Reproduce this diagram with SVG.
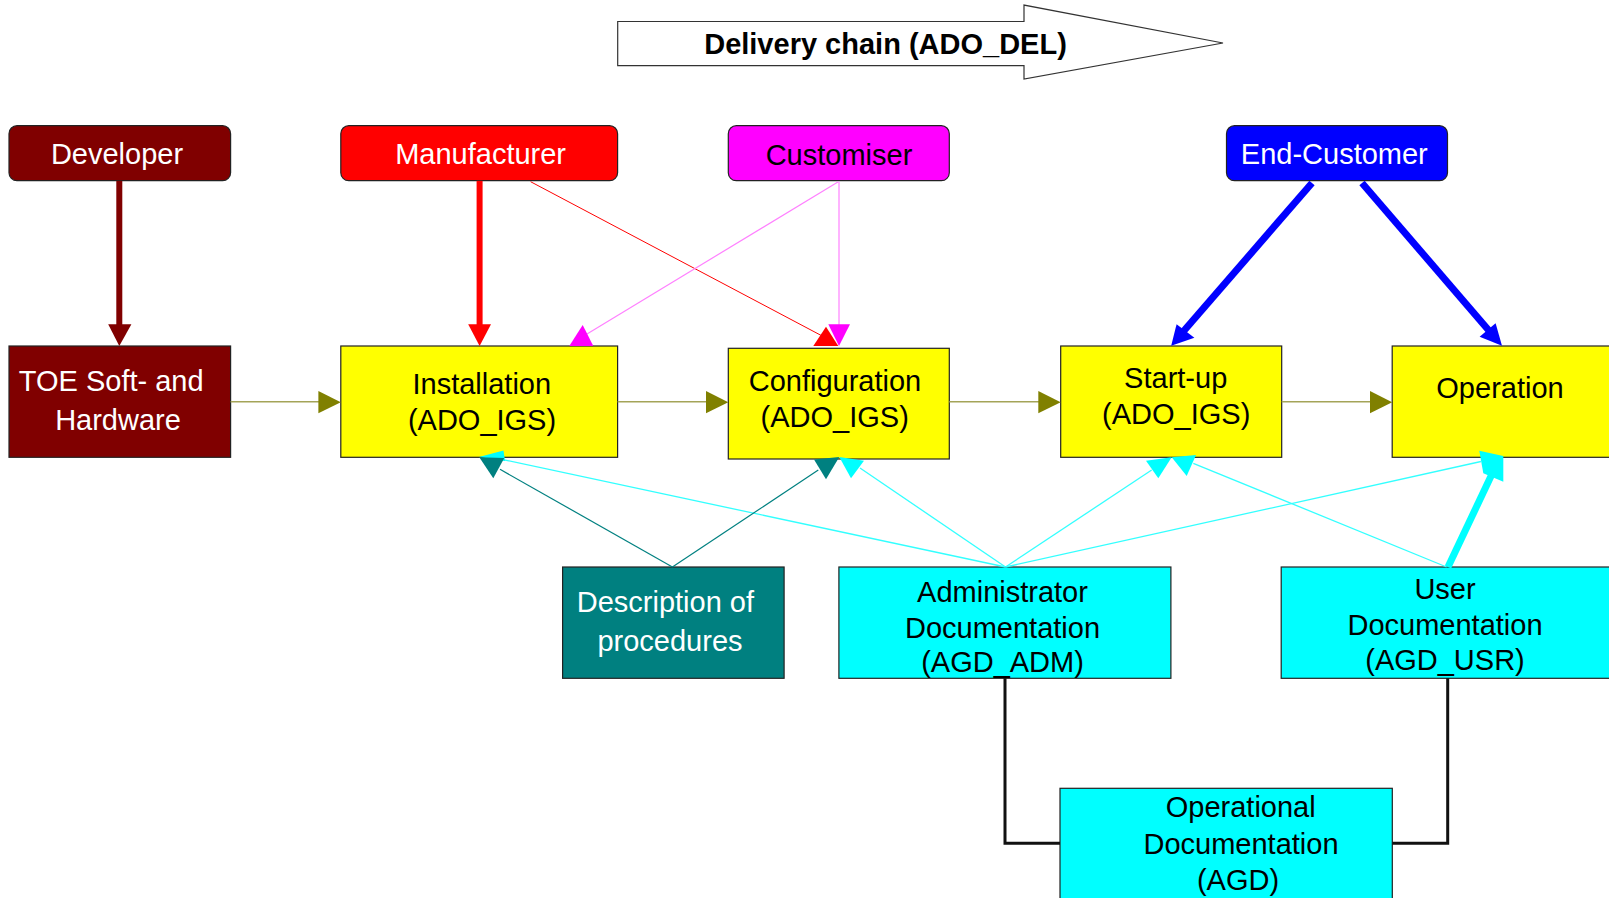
<svg xmlns="http://www.w3.org/2000/svg" width="1609" height="898" viewBox="0 0 1609 898">
<style>
.box{stroke:#222;stroke-width:1.2}
.t{font-family:"Liberation Sans",Arial,sans-serif;font-size:29px;text-anchor:middle}
.w{fill:#fff}.k{fill:#000}
.maroon{fill:#800000}.red{fill:#ff0000}.mag{fill:#ff00ff}.blue{fill:#0000ff}
.yel{fill:#ffff00}.teal{fill:#008080}.cyan{fill:#00ffff}
.ln{fill:none}
.olv{stroke:#a4a458;stroke-width:1.5}
.hd-olv{fill:#808000}
.thin-red{stroke:#ff0000;stroke-width:1}
.thin-mag{stroke:#ff80ff;stroke-width:1.2}
.thin-teal{stroke:#008080;stroke-width:1.2}
.thin-cyan{stroke:#33ffff;stroke-width:1.3}
.blk{stroke:#111;stroke-width:3;fill:none}
</style>
<rect width="1609" height="898" fill="#fff"/>

<g id="delivery-chain">
<polygon points="617.7,21.5 1024,21.5 1024,5.1 1223,43 1024,79 1024,65.7 617.7,65.7" fill="#fff" stroke="#333" stroke-width="1.2"/>
<text class="t k" x="885.5" y="53.5" font-weight="bold">Delivery chain (ADO_DEL)</text>
</g>

<g id="developer">
<rect class="box maroon" x="9" y="125.7" width="221.6" height="55" rx="8"/>
<text class="t w" x="117" y="163.5">Developer</text>
</g>
<g id="manufacturer">
<rect class="box red" x="340.8" y="125.7" width="276.8" height="55" rx="8"/>
<text class="t w" x="480.6" y="163.5">Manufacturer</text>
</g>
<g id="customiser">
<rect class="box mag" x="728.3" y="125.7" width="221" height="55" rx="8"/>
<text class="t k" x="839" y="165">Customiser</text>
</g>
<g id="end-customer">
<rect class="box blue" x="1226.5" y="125.7" width="221" height="55" rx="8"/>
<text class="t w" x="1334.3" y="163.5">End-Customer</text>
</g>

<g id="toe">
<rect class="box maroon" x="9" y="346" width="221.6" height="111.3"/>
<text class="t w" x="111.2" y="391">TOE Soft- and</text>
<text class="t w" x="118" y="430">Hardware</text>
</g>
<g id="installation">
<rect class="box yel" x="340.8" y="346" width="276.8" height="111.3"/>
<text class="t k" x="481.8" y="394.3">Installation</text>
<text class="t k" x="482" y="430">(ADO_IGS)</text>
</g>
<g id="configuration">
<rect class="box yel" x="728.3" y="348.3" width="221" height="110.7"/>
<text class="t k" x="835" y="391">Configuration</text>
<text class="t k" x="834.7" y="426.7">(ADO_IGS)</text>
</g>
<g id="start-up">
<rect class="box yel" x="1060.7" y="346" width="221" height="111.3"/>
<text class="t k" x="1175.7" y="388.3">Start-up</text>
<text class="t k" x="1176.2" y="424.3">(ADO_IGS)</text>
</g>
<g id="operation">
<rect class="box yel" x="1392.2" y="346" width="240" height="111.3"/>
<text class="t k" x="1500" y="398.3">Operation</text>
</g>

<g id="description">
<rect class="box teal" x="562.6" y="567" width="221.5" height="111.3" stroke="#0a2a2a"/>
<text class="t w" x="665.4" y="611.7">Description of</text>
<text class="t w" x="670" y="651">procedures</text>
</g>
<g id="admin-doc">
<rect class="box cyan" x="838.9" y="567" width="332" height="111.3"/>
<text class="t k" x="1002.5" y="601.7">Administrator</text>
<text class="t k" x="1002.5" y="637.5">Documentation</text>
<text class="t k" x="1002.5" y="672">(AGD_ADM)</text>
</g>
<g id="user-doc">
<rect class="box cyan" x="1281.2" y="567" width="340" height="111.3"/>
<text class="t k" x="1445" y="599.3">User</text>
<text class="t k" x="1445" y="635">Documentation</text>
<text class="t k" x="1445" y="670">(AGD_USR)</text>
</g>
<g id="operational-doc">
<rect class="box cyan" x="1060" y="788.3" width="332.3" height="120"/>
<text class="t k" x="1240.7" y="817.3">Operational</text>
<text class="t k" x="1241" y="854">Documentation</text>
<text class="t k" x="1238" y="889.5">(AGD)</text>
</g>

<g id="connectors">
<!-- developer / manufacturer thick -->
<line x1="119.3" y1="180.7" x2="119.3" y2="326" stroke="#800000" stroke-width="6"/>
<polygon class="maroon" points="108.2,324.3 131.4,324.3 119.3,346"/>
<line x1="479.6" y1="180.7" x2="479.6" y2="326" stroke="#ff0000" stroke-width="6"/>
<polygon class="red" points="468.2,324.3 491,324.3 479.6,346"/>
<!-- manufacturer -> configuration -->
<line class="ln thin-red" x1="530.6" y1="181.7" x2="826" y2="338"/>
<polygon class="red" points="813.3,346 826,326.7 838.3,346"/>
<!-- customiser -->
<line class="ln thin-mag" x1="838.3" y1="181.7" x2="587" y2="334"/>
<polygon class="mag" points="569.3,346 593.3,346 582.7,325"/>
<line class="ln thin-mag" x1="839" y1="181.7" x2="839" y2="326"/>
<polygon class="mag" points="828.3,324.3 850,324.3 839,346"/>
<!-- end-customer -->
<line x1="1312" y1="183" x2="1182" y2="333" stroke="#0000ff" stroke-width="7"/>
<polygon class="blue" points="1171.2,345.7 1176.6,324.3 1194.4,337.7"/>
<line x1="1362" y1="183" x2="1491" y2="333" stroke="#0000ff" stroke-width="7"/>
<polygon class="blue" points="1502,345.7 1495.6,323.3 1479.6,336.7"/>
<!-- olive chain -->
<line class="ln olv" x1="230.6" y1="401.8" x2="320" y2="401.8"/>
<polygon class="hd-olv" points="318.4,391 340.8,402.2 318.4,413.3"/>
<line class="ln olv" x1="617.6" y1="401.8" x2="708" y2="401.8"/>
<polygon class="hd-olv" points="706,391 728.3,402.2 706,413.3"/>
<line class="ln olv" x1="949.3" y1="401.8" x2="1040" y2="401.8"/>
<polygon class="hd-olv" points="1038.3,391 1060.7,402.2 1038.3,413.3"/>
<line class="ln olv" x1="1281.7" y1="401.8" x2="1372" y2="401.8"/>
<polygon class="hd-olv" points="1370,391 1392.2,402.2 1370,413.3"/>
<!-- documentation to steps -->
<line class="ln thin-cyan" x1="1005.5" y1="567" x2="500" y2="459"/>
<line class="ln thin-cyan" x1="1005.5" y1="567" x2="860" y2="468"/>
<line class="ln thin-cyan" x1="1005.5" y1="567" x2="1151.7" y2="470"/>
<line class="ln thin-cyan" x1="1005.5" y1="567" x2="1481" y2="461.5"/>
<line class="ln thin-cyan" x1="1446.6" y1="567" x2="1193.3" y2="463.3"/>
<line x1="1448" y1="567" x2="1492" y2="474" stroke="#00ffff" stroke-width="7"/>
<line class="ln thin-teal" x1="672.4" y1="567" x2="500" y2="469.3"/>
<line class="ln thin-teal" x1="672.4" y1="567" x2="818.3" y2="470"/>
<polygon class="cyan" points="479,457 503.5,450.5 505,461"/>
<polygon class="teal" points="479.3,457.3 504.3,458 493.3,478.3"/>
<polygon class="teal" points="814,459.5 839.3,457 826,479.3"/>
<polygon class="cyan" points="839.3,457 864,460.7 851,478.3"/>
<polygon class="cyan" points="1146,460.7 1171.7,457.3 1158.3,478.3"/>
<polygon class="cyan" points="1171.7,457.3 1196,455 1186.7,476"/>
<polygon class="cyan" points="1479.3,450.7 1503.3,456 1503.3,481.7 1483.3,473.3"/>
<!-- AGD links -->
<path class="blk" d="M1005,678.3 V843.3 H1060"/>
<path class="blk" d="M1447.7,678.3 V843.3 H1392.3"/>
</g>
</svg>
